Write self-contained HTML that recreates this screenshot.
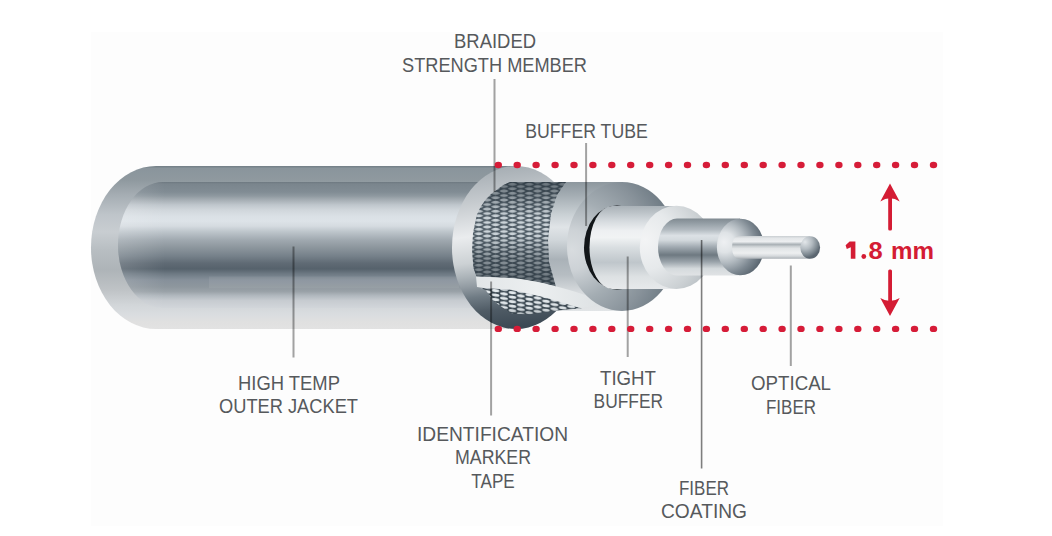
<!DOCTYPE html>
<html><head><meta charset="utf-8"><title>Fiber cable</title>
<style>
html,body{margin:0;padding:0;background:#fff;width:1052px;height:536px;overflow:hidden}
svg{display:block}
text{font-family:"Liberation Sans",sans-serif}
.lb{font-size:20px;fill:#56595c}
</style></head><body>
<svg width="1052" height="536" viewBox="0 0 1052 536">
<defs>
<linearGradient id="gOuter" x1="0" y1="166" x2="0" y2="329" gradientUnits="userSpaceOnUse">
<stop offset="0" stop-color="#717d85"/>
<stop offset="0.015" stop-color="#8a959c"/>
<stop offset="0.086" stop-color="#8f999f"/>
<stop offset="0.178" stop-color="#a5adb3"/>
<stop offset="0.30" stop-color="#bfc5ca"/>
<stop offset="0.405" stop-color="#c8cdd1"/>
<stop offset="0.515" stop-color="#b8bec2"/>
<stop offset="0.638" stop-color="#aeb4b8"/>
<stop offset="0.761" stop-color="#bfc3c6"/>
<stop offset="0.853" stop-color="#d2d6d9"/>
<stop offset="0.914" stop-color="#dadde0"/>
<stop offset="0.957" stop-color="#e0e0e0"/>
<stop offset="1" stop-color="#e2e2e2"/>
</linearGradient>
<linearGradient id="gInner" x1="0" y1="182" x2="0" y2="308" gradientUnits="userSpaceOnUse">
<stop offset="0" stop-color="#6d7880"/>
<stop offset="0.016" stop-color="#7a858d"/>
<stop offset="0.08" stop-color="#818c94"/>
<stop offset="0.111" stop-color="#8f99a0"/>
<stop offset="0.143" stop-color="#a6aeb4"/>
<stop offset="0.183" stop-color="#c0c7cd"/>
<stop offset="0.222" stop-color="#d0d6db"/>
<stop offset="0.27" stop-color="#dae0e5"/>
<stop offset="0.31" stop-color="#dde3e8"/>
<stop offset="0.35" stop-color="#d5dbe0"/>
<stop offset="0.397" stop-color="#bcc4ca"/>
<stop offset="0.46" stop-color="#a0a9b0"/>
<stop offset="0.524" stop-color="#8b959c"/>
<stop offset="0.587" stop-color="#76818a"/>
<stop offset="0.643" stop-color="#606b75"/>
<stop offset="0.69" stop-color="#56626c"/>
<stop offset="0.73" stop-color="#6e7a84"/>
<stop offset="0.778" stop-color="#86909a"/>
<stop offset="0.833" stop-color="#8e979e"/>
<stop offset="0.87" stop-color="#9aa2a8"/>
<stop offset="0.9" stop-color="#b0b7bd"/>
<stop offset="0.94" stop-color="#c6cbd0"/>
<stop offset="1" stop-color="#d2d6da"/>
</linearGradient>
<linearGradient id="gInnerLeft" x1="118" y1="0" x2="165" y2="0" gradientUnits="userSpaceOnUse">
<stop offset="0" stop-color="#ffffff" stop-opacity="0.16"/>
<stop offset="1" stop-color="#ffffff" stop-opacity="0"/>
</linearGradient>
<linearGradient id="gRing" x1="480" y1="166" x2="500" y2="329" gradientUnits="userSpaceOnUse">
<stop offset="0" stop-color="#a3abb1"/>
<stop offset="0.2" stop-color="#c3c8cc"/>
<stop offset="0.42" stop-color="#eaecee"/>
<stop offset="0.58" stop-color="#ccd1d4"/>
<stop offset="0.66" stop-color="#acb4b9"/>
<stop offset="0.72" stop-color="#939ca3"/>
<stop offset="0.79" stop-color="#6f7b84"/>
<stop offset="0.88" stop-color="#4f5b65"/>
<stop offset="1" stop-color="#3c4954"/>
</linearGradient>
<linearGradient id="gBufBody" x1="0" y1="182" x2="0" y2="311" gradientUnits="userSpaceOnUse">
<stop offset="0" stop-color="#8d979e"/>
<stop offset="0.1" stop-color="#a3acb2"/>
<stop offset="0.25" stop-color="#c9d0d4"/>
<stop offset="0.35" stop-color="#e0e4e7"/>
<stop offset="0.45" stop-color="#d0d6da"/>
<stop offset="0.6" stop-color="#aab2b8"/>
<stop offset="0.72" stop-color="#b6bdc2"/>
<stop offset="0.85" stop-color="#d6dadd"/>
<stop offset="1" stop-color="#e2e5e7"/>
</linearGradient>
<radialGradient id="gBufRing" cx="572" cy="250" r="100" gradientUnits="userSpaceOnUse">
<stop offset="0" stop-color="#d8dcdf"/>
<stop offset="0.2" stop-color="#cdd2d6"/>
<stop offset="0.5" stop-color="#a4adb3"/>
<stop offset="0.8" stop-color="#88929a"/>
<stop offset="1" stop-color="#727e87"/>
</radialGradient>
<linearGradient id="gTight" x1="0" y1="206" x2="0" y2="289" gradientUnits="userSpaceOnUse">
<stop offset="0" stop-color="#aab2b8"/>
<stop offset="0.08" stop-color="#bcc3c8"/>
<stop offset="0.18" stop-color="#d5dade"/>
<stop offset="0.3" stop-color="#eef0f2"/>
<stop offset="0.38" stop-color="#f1f3f4"/>
<stop offset="0.5" stop-color="#d9dee1"/>
<stop offset="0.68" stop-color="#bfc6cb"/>
<stop offset="0.85" stop-color="#dde1e3"/>
<stop offset="1" stop-color="#e7e9eb"/>
</linearGradient>
<radialGradient id="gTightRing" cx="645" cy="240" r="75" gradientUnits="userSpaceOnUse">
<stop offset="0" stop-color="#f3f4f5"/>
<stop offset="0.4" stop-color="#e6e9eb"/>
<stop offset="0.75" stop-color="#ccd1d4"/>
<stop offset="1" stop-color="#b4bbc0"/>
</radialGradient>
<linearGradient id="gCoat" x1="0" y1="218.5" x2="0" y2="275.5" gradientUnits="userSpaceOnUse">
<stop offset="0" stop-color="#808a91"/>
<stop offset="0.08" stop-color="#939da4"/>
<stop offset="0.2" stop-color="#b3bbc1"/>
<stop offset="0.3" stop-color="#dce1e5"/>
<stop offset="0.38" stop-color="#d3d9dd"/>
<stop offset="0.5" stop-color="#a1aab1"/>
<stop offset="0.64" stop-color="#6e7981"/>
<stop offset="0.76" stop-color="#9aa3aa"/>
<stop offset="0.88" stop-color="#d5dadd"/>
<stop offset="1" stop-color="#e0e3e5"/>
</linearGradient>
<radialGradient id="gCoatEnd" cx="726" cy="244" r="40" fx="724" fy="242" gradientUnits="userSpaceOnUse">
<stop offset="0" stop-color="#eef0f2"/>
<stop offset="0.25" stop-color="#dfe3e6"/>
<stop offset="0.5" stop-color="#b2bac0"/>
<stop offset="0.75" stop-color="#7e8992"/>
<stop offset="1" stop-color="#55616b"/>
</radialGradient>
<linearGradient id="gFiber" x1="0" y1="236" x2="0" y2="258.8" gradientUnits="userSpaceOnUse">
<stop offset="0" stop-color="#c9ced1"/>
<stop offset="0.1" stop-color="#e4e7e9"/>
<stop offset="0.25" stop-color="#eceef0"/>
<stop offset="0.33" stop-color="#bfc5c9"/>
<stop offset="0.38" stop-color="#a9b0b5"/>
<stop offset="0.45" stop-color="#c9ced1"/>
<stop offset="0.55" stop-color="#e2e5e7"/>
<stop offset="0.75" stop-color="#edeff0"/>
<stop offset="0.88" stop-color="#d5d9dc"/>
<stop offset="1" stop-color="#a9afb4"/>
</linearGradient>
<radialGradient id="gBall" cx="805" cy="242" r="16" gradientUnits="userSpaceOnUse">
<stop offset="0" stop-color="#e3e7ea"/>
<stop offset="0.45" stop-color="#b3bbc1"/>
<stop offset="0.8" stop-color="#7d8890"/>
<stop offset="1" stop-color="#5b6670"/>
</radialGradient>
<pattern id="mesh" x="0" y="182" width="16.8" height="4.5" patternUnits="userSpaceOnUse">
<rect width="16.8" height="4.5" fill="#4f5c66"/>
<path d="M-4.70,0.00 Q0.00,-3.30 4.70,0.00 Q0.00,3.30 -4.70,0.00 Z M12.10,0.00 Q16.80,-3.30 21.50,0.00 Q16.80,3.30 12.10,0.00 Z M-4.70,4.50 Q0.00,1.20 4.70,4.50 Q0.00,7.80 -4.70,4.50 Z M12.10,4.50 Q16.80,1.20 21.50,4.50 Q16.80,7.80 12.10,4.50 Z M3.70,2.25 Q8.40,-1.05 13.10,2.25 Q8.40,5.55 3.70,2.25 Z" fill="#d3dbe0"/>
</pattern>
<pattern id="mesh2" x="0" y="286" width="16.8" height="4.5" patternUnits="userSpaceOnUse" patternTransform="skewY(7)">
<rect width="16.8" height="4.5" fill="#3c4952"/>
<g fill="#e6ecef"><ellipse cx="0" cy="0" rx="3.9" ry="1.55"/><ellipse cx="16.8" cy="0" rx="3.9" ry="1.55"/><ellipse cx="0" cy="4.5" rx="3.9" ry="1.55"/><ellipse cx="16.8" cy="4.5" rx="3.9" ry="1.55"/><ellipse cx="8.4" cy="2.25" rx="3.9" ry="1.55"/></g>
</pattern>
<linearGradient id="gMeshShade" x1="0" y1="182" x2="0" y2="290" gradientUnits="userSpaceOnUse">
<stop offset="0" stop-color="#1e2a33" stop-opacity="0.6"/>
<stop offset="0.15" stop-color="#1e2a33" stop-opacity="0.35"/>
<stop offset="0.32" stop-color="#1e2a33" stop-opacity="0.05"/>
<stop offset="0.5" stop-color="#1e2a33" stop-opacity="0.05"/>
<stop offset="0.7" stop-color="#1e2a33" stop-opacity="0.4"/>
<stop offset="1" stop-color="#1e2a33" stop-opacity="0.65"/>
</linearGradient>
<linearGradient id="gMeshShade2" x1="0" y1="286" x2="0" y2="322" gradientUnits="userSpaceOnUse">
<stop offset="0" stop-color="#1e2a33" stop-opacity="0.0"/>
<stop offset="0.6" stop-color="#1e2a33" stop-opacity="0.05"/>
<stop offset="1" stop-color="#1e2a33" stop-opacity="0.45"/>
</linearGradient>
<linearGradient id="gTape" x1="478" y1="0" x2="595" y2="0" gradientUnits="userSpaceOnUse">
<stop offset="0" stop-color="#e2e6e8"/>
<stop offset="0.5" stop-color="#eceff0"/>
<stop offset="1" stop-color="#dfe3e5"/>
</linearGradient>
<clipPath id="holeClip"><ellipse cx="512" cy="245" rx="40" ry="75"/><rect x="512" y="182" width="80" height="136"/></clipPath>
</defs>

<rect x="0" y="0" width="1052" height="536" fill="#fff"/>
<rect x="91" y="32" width="852" height="494" fill="#fdfdfd"/>

<!-- jacket -->
<path d="M156,166 L520,166 L520,329 L156,329 A65,81.5 0 0 1 156,166 Z" fill="url(#gOuter)"/>
<path d="M163,182 L480,182 L480,308 L163,308 A45,63 0 0 1 163,182 Z" fill="url(#gInner)"/>
<path d="M163,182 L170,182 L170,308 L163,308 A45,63 0 0 1 163,182 Z" fill="url(#gInnerLeft)"/>
<rect x="209" y="276.5" width="250" height="11.8" fill="#ffffff" opacity="0.07"/>

<!-- jacket end ring -->
<ellipse cx="516" cy="247.5" rx="64" ry="81.5" fill="url(#gRing)"/>

<!-- buffer tube body -->
<rect x="512" y="182" width="110" height="129" fill="url(#gBufBody)"/>

<!-- braid -->
<g>
<path d="M510,182 L566,182 L557,195 L551,214 L548,240 L549,262 L556,287 L539,282.3 L511,278 L476.5,276.5 L473.5,268 L472,250 L473,233 L476.8,215 L480.5,207 L485.4,200 L490.5,194.5 L496.5,190 L503.4,185 Z" fill="url(#mesh)"/>
<path d="M510,182 L566,182 L557,195 L551,214 L548,240 L549,262 L556,287 L539,282.3 L511,278 L476.5,276.5 L473.5,268 L472,250 L473,233 L476.8,215 L480.5,207 L485.4,200 L490.5,194.5 L496.5,190 L503.4,185 Z" fill="url(#gMeshShade)"/>
<path d="M480,287.5 L483.6,287.9 L510.8,289.7 L544.2,297.1 L578.8,307.6 L582,308.3 L570,309.3 L552,311 L530,314.3 L512.4,313.8 L510.4,312.8 L503,307.7 L493,300.5 L485.8,290.3 Z" fill="url(#mesh2)"/>
<path d="M480,287.5 L483.6,287.9 L510.8,289.7 L544.2,297.1 L578.8,307.6 L582,308.3 L570,309.3 L552,311 L530,314.3 L512.4,313.8 L510.4,312.8 L503,307.7 L493,300.5 L485.8,290.3 Z" fill="url(#gMeshShade2)"/>
</g>
<!-- ID tape -->
<path d="M476,276.5 C490,277 500,277.6 511,278 C522,279 530,280.5 539,282.3 C546,283.8 552,285.3 556.5,286.6 C570,290 584,294.5 596,299 L594,306 L582,307.8 L578.8,307.6 C566,303.6 555,300.4 544.2,297.1 C533,294.6 522,291.5 510.8,289.7 C501,288.8 492,288.3 483.6,287.9 L477,287 Z" fill="url(#gTape)"/>

<!-- buffer tube ring -->
<ellipse cx="622" cy="246.5" rx="55" ry="64.5" fill="url(#gBufRing)"/>
<ellipse cx="617" cy="247.5" rx="33" ry="42" fill="#121619"/>
<!-- tight buffer body -->
<path d="M612,206 L676.5,206 L676.5,289 L612,289 A22.5,41.5 0 0 1 612,206 Z" fill="url(#gTight)"/>
<!-- tight buffer ring -->
<ellipse cx="676.5" cy="247.4" rx="36.7" ry="41.6" fill="url(#gTightRing)"/>
<!-- fiber coating -->
<path d="M677,218.5 L740,218.5 L740,275.5 L677,275.5 A19,28.5 0 0 1 677,218.5 Z" fill="url(#gCoat)"/>
<ellipse cx="740.5" cy="247" rx="23.6" ry="28.3" fill="url(#gCoatEnd)"/>
<!-- optical fiber -->
<path d="M738,236 L810,236 L810,258.8 L738,258.8 A6,11.4 0 0 1 738,236 Z" fill="url(#gFiber)"/>
<ellipse cx="810.2" cy="247.5" rx="9.9" ry="11.3" fill="url(#gBall)"/>

<!-- leader lines -->
<g stroke="#000" stroke-opacity="0.36" stroke-width="2">
<line x1="494.5" y1="79" x2="494.5" y2="192"/>
<line x1="586.1" y1="143" x2="586.1" y2="226"/>
<line x1="293.5" y1="246.5" x2="293.5" y2="357.5"/>
<line x1="491.1" y1="281.5" x2="491.1" y2="415.5"/>
<line x1="627.7" y1="256.5" x2="627.7" y2="357"/>
<line x1="790.8" y1="265.5" x2="790.8" y2="366"/>
</g>
<line x1="701.6" y1="240" x2="701.6" y2="468.5" stroke="#000" stroke-opacity="0.5" stroke-width="1.6"/>

<!-- red dots -->
<g fill="#d61c38">
<ellipse cx="498.3" cy="165.0" rx="3.7" ry="3.2"/>
<ellipse cx="517.2" cy="165.0" rx="3.7" ry="3.2"/>
<ellipse cx="536.1" cy="165.0" rx="3.7" ry="3.2"/>
<ellipse cx="555.1" cy="165.0" rx="3.7" ry="3.2"/>
<ellipse cx="574.0" cy="165.0" rx="3.7" ry="3.2"/>
<ellipse cx="592.9" cy="165.0" rx="3.7" ry="3.2"/>
<ellipse cx="611.8" cy="165.0" rx="3.7" ry="3.2"/>
<ellipse cx="630.7" cy="165.0" rx="3.7" ry="3.2"/>
<ellipse cx="649.7" cy="165.0" rx="3.7" ry="3.2"/>
<ellipse cx="668.6" cy="165.0" rx="3.7" ry="3.2"/>
<ellipse cx="687.5" cy="165.0" rx="3.7" ry="3.2"/>
<ellipse cx="706.4" cy="165.0" rx="3.7" ry="3.2"/>
<ellipse cx="725.3" cy="165.0" rx="3.7" ry="3.2"/>
<ellipse cx="744.3" cy="165.0" rx="3.7" ry="3.2"/>
<ellipse cx="763.2" cy="165.0" rx="3.7" ry="3.2"/>
<ellipse cx="782.1" cy="165.0" rx="3.7" ry="3.2"/>
<ellipse cx="801.0" cy="165.0" rx="3.7" ry="3.2"/>
<ellipse cx="819.9" cy="165.0" rx="3.7" ry="3.2"/>
<ellipse cx="838.9" cy="165.0" rx="3.7" ry="3.2"/>
<ellipse cx="857.8" cy="165.0" rx="3.7" ry="3.2"/>
<ellipse cx="876.7" cy="165.0" rx="3.7" ry="3.2"/>
<ellipse cx="895.6" cy="165.0" rx="3.7" ry="3.2"/>
<ellipse cx="914.5" cy="165.0" rx="3.7" ry="3.2"/>
<ellipse cx="933.5" cy="165.0" rx="3.7" ry="3.2"/>
<ellipse cx="498.3" cy="328.9" rx="3.7" ry="3.2"/>
<ellipse cx="517.2" cy="328.9" rx="3.7" ry="3.2"/>
<ellipse cx="536.1" cy="328.9" rx="3.7" ry="3.2"/>
<ellipse cx="555.1" cy="328.9" rx="3.7" ry="3.2"/>
<ellipse cx="574.0" cy="328.9" rx="3.7" ry="3.2"/>
<ellipse cx="592.9" cy="328.9" rx="3.7" ry="3.2"/>
<ellipse cx="611.8" cy="328.9" rx="3.7" ry="3.2"/>
<ellipse cx="630.7" cy="328.9" rx="3.7" ry="3.2"/>
<ellipse cx="649.7" cy="328.9" rx="3.7" ry="3.2"/>
<ellipse cx="668.6" cy="328.9" rx="3.7" ry="3.2"/>
<ellipse cx="687.5" cy="328.9" rx="3.7" ry="3.2"/>
<ellipse cx="706.4" cy="328.9" rx="3.7" ry="3.2"/>
<ellipse cx="725.3" cy="328.9" rx="3.7" ry="3.2"/>
<ellipse cx="744.3" cy="328.9" rx="3.7" ry="3.2"/>
<ellipse cx="763.2" cy="328.9" rx="3.7" ry="3.2"/>
<ellipse cx="782.1" cy="328.9" rx="3.7" ry="3.2"/>
<ellipse cx="801.0" cy="328.9" rx="3.7" ry="3.2"/>
<ellipse cx="819.9" cy="328.9" rx="3.7" ry="3.2"/>
<ellipse cx="838.9" cy="328.9" rx="3.7" ry="3.2"/>
<ellipse cx="857.8" cy="328.9" rx="3.7" ry="3.2"/>
<ellipse cx="876.7" cy="328.9" rx="3.7" ry="3.2"/>
<ellipse cx="895.6" cy="328.9" rx="3.7" ry="3.2"/>
<ellipse cx="914.5" cy="328.9" rx="3.7" ry="3.2"/>
<ellipse cx="933.5" cy="328.9" rx="3.7" ry="3.2"/>
</g>

<!-- arrows -->
<g fill="#d41c34">
<rect x="888.2" y="196" width="3.8" height="34.5" rx="1.5"/>
<path d="M890,183.5 L880.3,201.5 Q890,195 899.7,201.5 Z"/>
<rect x="888.2" y="269.5" width="3.8" height="33" rx="1.5"/>
<path d="M890,316 L880.3,298 Q890,304 899.7,298 Z"/>
</g>
<g fill="#d41c34">
<path d="M849.6,241.4 L855.4,241.4 L855.4,258.7 L850.8,258.7 L850.8,247.2 L846.8,249.1 L845.6,245.3 Z"/>
<ellipse cx="863.8" cy="256.5" rx="2.4" ry="2.4"/>
<text x="868.6" y="258.8" font-weight="bold" font-size="23.5" textLength="14.2" lengthAdjust="spacingAndGlyphs">8</text>
<text x="891.1" y="258.8" font-weight="bold" font-size="23.5" textLength="43" lengthAdjust="spacingAndGlyphs">mm</text>
</g>

<!-- labels -->
<g class="lb" text-anchor="middle">
<text x="495" y="48.3" textLength="82" lengthAdjust="spacingAndGlyphs">BRAIDED</text>
<text x="494.5" y="71.5" textLength="185" lengthAdjust="spacingAndGlyphs">STRENGTH MEMBER</text>
<text x="586.5" y="137.7" textLength="122.5" lengthAdjust="spacingAndGlyphs">BUFFER TUBE</text>
<text x="289" y="390" textLength="102" lengthAdjust="spacingAndGlyphs">HIGH TEMP</text>
<text x="288.5" y="413" textLength="139" lengthAdjust="spacingAndGlyphs">OUTER JACKET</text>
<text x="492.5" y="440.8" textLength="151" lengthAdjust="spacingAndGlyphs">IDENTIFICATION</text>
<text x="493" y="464.1" textLength="76" lengthAdjust="spacingAndGlyphs">MARKER</text>
<text x="493" y="487.8" textLength="43.5" lengthAdjust="spacingAndGlyphs">TAPE</text>
<text x="628" y="384.7" textLength="56" lengthAdjust="spacingAndGlyphs">TIGHT</text>
<text x="628.3" y="408.3" textLength="69.5" lengthAdjust="spacingAndGlyphs">BUFFER</text>
<text x="791" y="390.3" textLength="80" lengthAdjust="spacingAndGlyphs">OPTICAL</text>
<text x="791" y="413.9" textLength="50" lengthAdjust="spacingAndGlyphs">FIBER</text>
<text x="704" y="494.7" textLength="50" lengthAdjust="spacingAndGlyphs">FIBER</text>
<text x="704" y="518.1" textLength="86" lengthAdjust="spacingAndGlyphs">COATING</text>
</g>
</svg>
</body></html>
